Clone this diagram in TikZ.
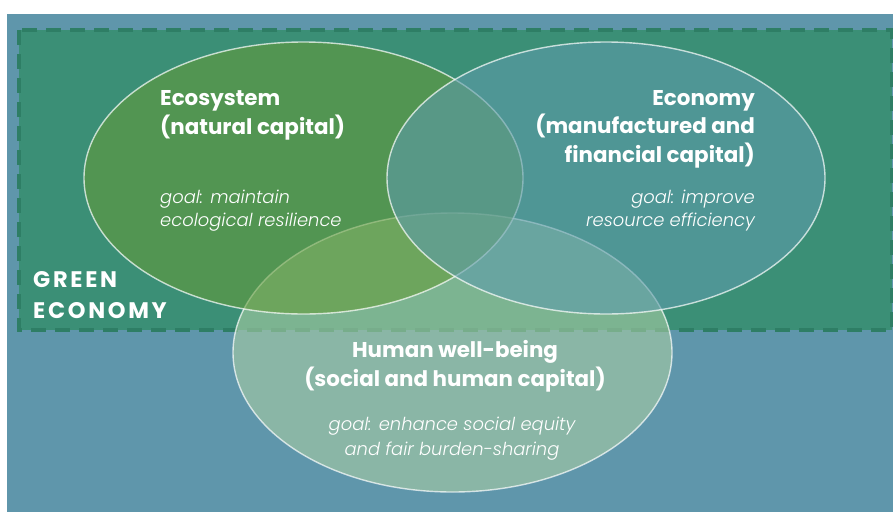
\documentclass[tikz,border=0pt]{standalone}
\usepackage{fontspec}
\setmainfont{Poppins}[ItalicFont={Poppins Light Italic}]
\newfontfamily\gefont{Poppins}[LetterSpace=12]
\definecolor{bgblue}{RGB}{95,150,171}
\definecolor{rectgreen}{RGB}{59,143,118}
\definecolor{dashgreen}{RGB}{46,126,101}
\definecolor{ecofill}{RGB}{99,155,56}
\definecolor{econfill}{RGB}{93,155,170}
\definecolor{humfill}{RGB}{165,203,163}
\begin{document}
\begin{tikzpicture}[x=1pt,y=-1pt,
  outline/.style={draw=white,draw opacity=0.7,line width=1.4pt},
  head/.style={text=white,inner sep=0pt,font=\fontsize{21.4}{29}\selectfont\bfseries},
  goal/.style={text=white,inner sep=0pt,font=\fontsize{17.9}{23}\selectfont\itshape},
  ge/.style={text=white,inner sep=0pt,font=\gefont\fontsize{22.5}{31}\selectfont\bfseries}]
\useasboundingbox (0,0) rectangle (893,512);
\fill[white] (0,0) rectangle (893,512);
\fill[bgblue] (7,14) rectangle (893,512);
\fill[rectgreen] (19,30) rectangle (892,330);
\draw[dashgreen,line width=3.5pt,dash pattern=on 15pt off 9pt] (19,30) rectangle (892,330);
% ellipses
\path[fill=humfill,fill opacity=0.62,outline] (452.5,352.5) ellipse [x radius=219.5,y radius=139.5];
\path[fill=ecofill,fill opacity=0.58,outline] (303.5,178) ellipse [x radius=219.5,y radius=136];
\path[fill=econfill,fill opacity=0.6,outline] (606,178) ellipse [x radius=219,y radius=136];
% texts
\node[head,anchor=base west] (eco1) at (160,105) {Ecosystem};
\node[head,anchor=base west] (eco2) at (160,134) {(natural capital)};
\node[goal,anchor=base west] (ecog1) at (160,203) {goal: maintain};
\node[goal,anchor=base west] (ecog2) at (160,226) {ecological resilience};
\node[head,anchor=base east] (ec1) at (755,105) {Economy};
\node[head,anchor=base east] (ec2) at (755,133) {(manufactured and};
\node[head,anchor=base east] (ec3) at (755,162) {financial capital)};
\node[goal,anchor=base east] (ecg1) at (755,203) {goal: improve};
\node[goal,anchor=base east] (ecg2) at (755,226) {resource efficiency};
\node[head,anchor=base] (h1) at (455,357) {Human well-being};
\node[head,anchor=base] (h2) at (455,386) {(social and human capital)};
\node[goal,anchor=base] (hg1) at (452,430) {goal: enhance social equity};
\node[goal,anchor=base] (hg2) at (452,455) {and fair burden-sharing};
\node[ge,anchor=base west] (g1) at (33,287) {GREEN};
\node[ge,anchor=base west] (g2) at (33,318) {ECONOMY};
\end{tikzpicture}
\end{document}
